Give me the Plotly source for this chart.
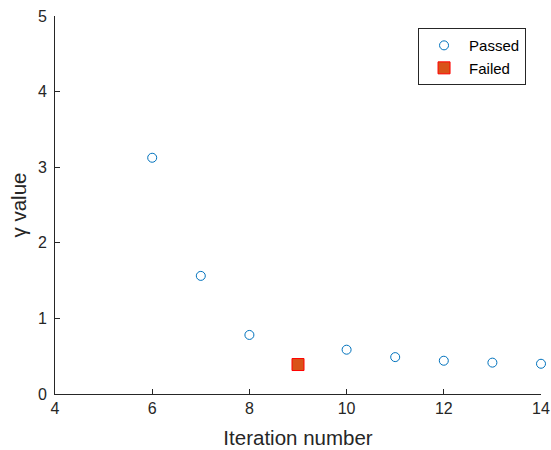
import plotly.graph_objects as go

passed_x = [6, 7, 8, 10, 11, 12, 13, 14]
passed_y = [3.125, 1.5625, 0.78125, 0.586, 0.488, 0.44, 0.415, 0.40]
failed_x = [9]
failed_y = [0.39]

x_ticks = [4, 6, 8, 10, 12, 14]
y_ticks = [0, 1, 2, 3, 4, 5]

axis_color = "#262626"
font_family = "Liberation Sans, Arial, sans-serif"

fig = go.Figure()
fig.add_trace(go.Scatter(
    x=passed_x, y=passed_y, mode="markers", name="Passed",
    marker=dict(symbol="circle-open", size=9, color="#0072BD", line=dict(width=1)),
    cliponaxis=False,
))
fig.add_trace(go.Scatter(
    x=failed_x, y=failed_y, mode="markers", name="Failed",
    marker=dict(symbol="square", size=12, color="#D95319", line=dict(color="#FF0000", width=1)),
    cliponaxis=False,
))

fig.update_layout(
    width=551, height=450,
    margin=dict(l=55, r=10, t=16, b=56),
    plot_bgcolor="white", paper_bgcolor="white",
    font=dict(family=font_family, size=16, color=axis_color),
    showlegend=True,
    legend=dict(
        x=0.747, y=0.968, xanchor="left", yanchor="top",
        bordercolor=axis_color, borderwidth=1, bgcolor="white",
        font=dict(size=15, color="black"),
        itemwidth=40, tracegroupgap=0,
    ),
    xaxis=dict(
        range=[4, 14], tickvals=x_ticks, ticks="inside", ticklen=5,
        tickcolor=axis_color, showline=True, linecolor=axis_color, linewidth=1,
        showgrid=False, zeroline=False, mirror=False, automargin=False,
        ticklabeloverflow="allow",
        title=dict(text="Iteration number", font=dict(size=20.5), standoff=14),
    ),
    yaxis=dict(
        range=[0, 5], tickvals=y_ticks, ticks="inside", ticklen=5,
        tickcolor=axis_color, showline=True, linecolor=axis_color, linewidth=1,
        showgrid=False, zeroline=False, mirror=False, automargin=False,
        ticklabelstandoff=4, ticklabeloverflow="allow",
        title=dict(text="γ value", font=dict(size=20.5), standoff=5),
    ),
)

fig.write_html(
    "out.html",
    config={"displayModeBar": False},
    post_script="document.body.style.margin='0';document.body.style.overflow='hidden';",
)
